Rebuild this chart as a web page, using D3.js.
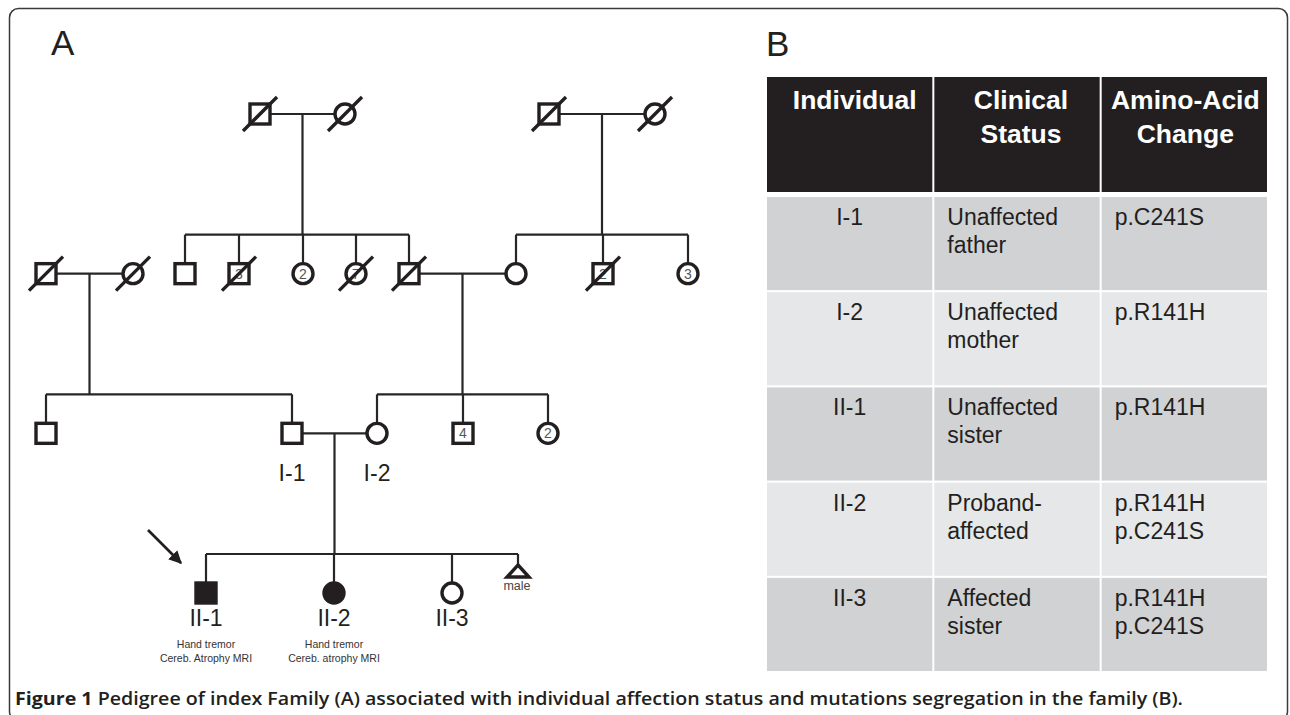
<!DOCTYPE html>
<html>
<head>
<meta charset="utf-8">
<script src="https://cdn.jsdelivr.net/npm/d3@7"></script>
<style>
  body { margin: 0; background: #fff; }
  svg { display: block; }
</style>
</head>
<body>
<svg id="fig" width="1290" height="715"></svg>
<script>
// Pedigree individuals (x = horizontal slot in pedigree units, gen = generation row)
const people = [
  { id: "pgf", sex: "m", gen: 0, x: 214, dec: true },
  { id: "pgm", sex: "f", gen: 0, x: 299, dec: true },
  { id: "mgf", sex: "m", gen: 0, x: 503, dec: true },
  { id: "mgm", sex: "f", gen: 0, x: 609, dec: true },
  { id: "lgf", sex: "m", gen: 1, x: 0, dec: true },
  { id: "lgm", sex: "f", gen: 1, x: 87, dec: true },
  { id: "u1", sex: "m", gen: 1, x: 139 },
  { id: "u2", sex: "m", gen: 1, x: 193, dec: true, n: "3" },
  { id: "u3", sex: "f", gen: 1, x: 257, n: "2" },
  { id: "u4", sex: "f", gen: 1, x: 310, dec: true, n: "7" },
  { id: "pf", sex: "m", gen: 1, x: 363, dec: true },
  { id: "pm", sex: "f", gen: 1, x: 470 },
  { id: "a1", sex: "m", gen: 1, x: 557, dec: true, n: "2" },
  { id: "a2", sex: "f", gen: 1, x: 642, n: "3" },
  { id: "c1", sex: "m", gen: 2, x: 0 },
  { id: "I1", sex: "m", gen: 2, x: 246, label: "I-1" },
  { id: "I2", sex: "f", gen: 2, x: 331, label: "I-2" },
  { id: "c3", sex: "m", gen: 2, x: 417, n: "4" },
  { id: "c4", sex: "f", gen: 2, x: 502, n: "2" },
  { id: "II1", sex: "m", gen: 3, x: 160, aff: true, label: "II-1" },
  { id: "II2", sex: "f", gen: 3, x: 288, aff: true, label: "II-2" },
  { id: "II3", sex: "f", gen: 3, x: 406, label: "II-3" },
  { id: "sab", sex: "t", gen: 3, x: 472, note: "male" }
];

// Matings: [father, mother, children]
const unions = [
  ["pgf", "pgm", ["u1", "u2", "u3", "u4", "pf"]],
  ["mgf", "mgm", ["pm", "a1", "a2"]],
  ["lgf", "lgm", ["c1", "I1"]],
  ["pf", "pm", ["I2", "c3", "c4"]],
  ["I1", "I2", ["II1", "II2", "II3", "sab"]]
];

const clinicalNotes = {
  II1: ["Hand tremor", "Cereb. Atrophy MRI"],
  II2: ["Hand tremor", "Cereb. atrophy MRI"]
};

// Table (panel B)
const columns = [["Individual"], ["Clinical", "Status"], ["Amino-Acid", "Change"]];
const individualCol = ["I-1", "I-2", "II-1", "II-2", "II-3"];
const statusCol = [
  ["Unaffected", "father"],
  ["Unaffected", "mother"],
  ["Unaffected", "sister"],
  ["Proband-", "affected"],
  ["Affected", "sister"]
];
const changeCol = [
  ["p.C241S"],
  ["p.R141H"],
  ["p.R141H"],
  ["p.R141H", "p.C241S"],
  ["p.R141H", "p.C241S"]
];

const caption = ["Figure 1", " Pedigree of index Family (A) associated with individual affection status and mutations segregation in the family (B)."];

const ink = "#231f20";
const svg = d3.select("#fig");

// frame
svg.append("rect")
  .attr("x", 9.5).attr("y", 8.5)
  .attr("width", 1278).attr("height", 712)
  .attr("rx", 9)
  .attr("fill", "none")
  .attr("stroke", "#3a3a3a")
  .attr("stroke-width", 1.5);

// panel letters
svg.append("text").attr("x", 51).attr("y", 55).text("A")
  .attr("font-family", "Liberation Sans, Arial, sans-serif").attr("font-size", 35).attr("fill", ink);
svg.append("text").attr("x", 766).attr("y", 56).text("B")
  .attr("font-family", "Liberation Sans, Arial, sans-serif").attr("font-size", 35).attr("fill", ink);

// ---------- Pedigree ----------
const x = d3.scaleLinear().domain([0, 642]).range([46, 688]);
const y = d3.scaleLinear().domain([0, 3]).range([114, 593]);
const byId = new Map(people.map(p => [p.id, p]));
const half = 10;     // half symbol size
const sibGap = 39;   // sibship line above child row

const ped = svg.append("g");
const lines = ped.append("g")
  .attr("stroke", "#262626")
  .attr("stroke-width", 2.2)
  .attr("fill", "none");

unions.forEach(([fa, mo, kids]) => {
  const f = byId.get(fa), m = byId.get(mo);
  const yy = y(f.gen);
  lines.append("line")
    .attr("x1", x(f.x)).attr("x2", x(m.x))
    .attr("y1", yy).attr("y2", yy);
  const mid = (x(f.x) + x(m.x)) / 2;
  const ch = kids.map(k => byId.get(k));
  const sy = y(ch[0].gen) - sibGap;
  lines.append("line")
    .attr("x1", mid).attr("x2", mid)
    .attr("y1", yy).attr("y2", sy);
  lines.append("line")
    .attr("x1", d3.min(ch, c => x(c.x))).attr("x2", d3.max(ch, c => x(c.x)))
    .attr("y1", sy).attr("y2", sy);
  ch.forEach(c => {
    lines.append("line")
      .attr("x1", x(c.x)).attr("x2", x(c.x))
      .attr("y1", sy).attr("y2", c.sex === "t" ? y(c.gen) - 28 : y(c.gen));
  });
});

const sym = ped.selectAll("g.person")
  .data(people)
  .join("g")
  .attr("class", "person")
  .attr("transform", d => `translate(${x(d.x)},${y(d.gen)})`);

sym.filter(d => d.sex === "m").append("rect")
  .attr("x", -half).attr("y", -half)
  .attr("width", half * 2).attr("height", half * 2);
sym.filter(d => d.sex === "f").append("circle")
  .attr("r", half);
sym.filter(d => d.sex === "t").append("path")
  .attr("d", "M0,-28L11,-16L-11,-16Z");

sym.selectAll("rect, circle, path")
  .attr("fill", function() { return d3.select(this.parentNode).datum().aff ? ink : "#fff"; })
  .attr("stroke", ink)
  .attr("stroke-width", 3.4)
  .attr("stroke-linejoin", "miter");

sym.filter(d => d.n).append("text")
  .attr("text-anchor", "middle")
  .attr("dy", "0.36em")
  .attr("font-family", "Liberation Sans, Arial, sans-serif")
  .attr("font-size", 14)
  .attr("fill", "#555")
  .text(d => d.n);

sym.filter(d => d.dec).append("line")
  .attr("x1", -17).attr("y1", 17)
  .attr("x2", 17).attr("y2", -17)
  .attr("stroke", ink)
  .attr("stroke-width", 3.4);

sym.filter(d => d.note).append("text")
  .attr("text-anchor", "middle")
  .attr("x", -1)
  .attr("y", -3)
  .attr("font-family", "Liberation Sans, Arial, sans-serif")
  .attr("font-size", 12.5)
  .attr("fill", "#444")
  .text(d => d.note);

sym.filter(d => d.label).append("text")
  .attr("text-anchor", "middle")
  .attr("y", d => d.gen === 2 ? 48 : 33)
  .attr("font-family", "Liberation Sans, Arial, sans-serif")
  .attr("font-size", 23)
  .attr("fill", ink)
  .text(d => d.label);

sym.filter(d => clinicalNotes[d.id]).each(function(d) {
  d3.select(this).selectAll("text.note")
    .data(clinicalNotes[d.id])
    .join("text")
    .attr("class", "note")
    .attr("text-anchor", "middle")
    .attr("y", (t, i) => 55 + i * 14)
    .attr("font-family", "Liberation Sans, Arial, sans-serif")
    .attr("font-size", 10.5)
    .attr("fill", "#333")
    .text(t => t);
});

// proband arrow
const pb = byId.get("II1");
svg.append("defs").append("marker")
  .attr("id", "ah")
  .attr("viewBox", "0 0 10 10")
  .attr("refX", 9).attr("refY", 5)
  .attr("markerWidth", 5).attr("markerHeight", 5)
  .attr("orient", "auto")
  .append("path").attr("d", "M0,0L10,5L0,10Z").attr("fill", ink);
svg.append("line")
  .attr("x1", x(pb.x) - 58).attr("y1", y(pb.gen) - 63)
  .attr("x2", x(pb.x) - 25).attr("y2", y(pb.gen) - 30)
  .attr("stroke", ink)
  .attr("stroke-width", 2.6)
  .attr("marker-end", "url(#ah)");

// ---------- Table ----------
const colX = d3.scaleBand().domain(d3.range(columns.length)).range([767, 1267]).paddingInner(0.012);
const rowY = d3.scaleBand().domain(d3.range(individualCol.length)).range([197, 671]).paddingInner(0.022);
const tbl = svg.append("g").attr("font-family", "Liberation Sans, Arial, sans-serif");

// header
tbl.selectAll("rect.hd")
  .data(columns)
  .join("rect")
  .attr("class", "hd")
  .attr("x", (d, i) => colX(i)).attr("y", 77)
  .attr("width", colX.bandwidth()).attr("height", 115)
  .attr("fill", ink);

columns.forEach((lbl, i) => {
  tbl.selectAll(null)
    .data(lbl)
    .join("text")
    .attr("x", colX(i) + colX.bandwidth() / 2 + (i === 0 ? 5 : i === 1 ? 4 : 1))
    .attr("y", (t, j) => 109 + j * 34)
    .attr("text-anchor", "middle")
    .attr("font-size", 26.5)
    .attr("font-weight", "bold")
    .attr("fill", "#fff")
    .text(t => t);
});

const body = individualCol.map((id, r) => [[id], statusCol[r], changeCol[r]]);
body.forEach((row, r) => {
  row.forEach((cell, c) => {
    tbl.append("rect")
      .attr("x", colX(c)).attr("y", rowY(r))
      .attr("width", colX.bandwidth()).attr("height", rowY.bandwidth())
      .attr("fill", r % 2 === 0 ? "#d1d2d4" : "#e6e7e8");
    tbl.selectAll(null)
      .data(cell)
      .join("text")
      .attr("x", c === 0 ? colX(c) + colX.bandwidth() / 2 : colX(c) + 13)
      .attr("text-anchor", c === 0 ? "middle" : "start")
      .attr("y", (t, j) => rowY(r) + 28 + j * 28)
      .attr("font-size", 23)
      .attr("fill", ink)
      .text(t => t);
  });
});

// ---------- Caption ----------
const cap = svg.append("text")
  .attr("x", 15).attr("y", 705)
  .attr("font-family", "Open Sans, Noto Sans, sans-serif")
  .attr("font-size", 18)
  .attr("font-weight", 600)
  .attr("fill", ink)
  .attr("textLength", 1168)
  .attr("lengthAdjust", "spacingAndGlyphs");
cap.append("tspan").attr("font-weight", 700).text(caption[0]);
cap.append("tspan").text(caption[1]);
</script>
</body>
</html>
